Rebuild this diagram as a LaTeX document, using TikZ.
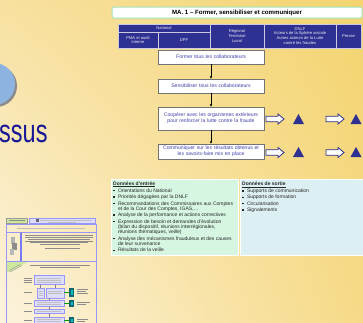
\documentclass[tikz,border=0pt]{standalone}
\usepackage{fontspec}
\setmainfont{Liberation Sans}
\usetikzlibrary{arrows.meta,shadings}

\definecolor{navy}{RGB}{46,49,146}
\definecolor{boxtext}{RGB}{62,62,172}
\definecolor{panelgreen}{RGB}{214,246,226}
\definecolor{panelblue}{RGB}{220,239,242}
\definecolor{titleborder}{RGB}{160,228,188}
\definecolor{circleblue}{RGB}{141,180,224}
\definecolor{headblue}{RGB}{24,24,150}
\definecolor{thumbblue}{RGB}{150,150,250}
\definecolor{thumblav}{RGB}{222,222,252}
\definecolor{thumbgreen}{RGB}{206,232,160}
\definecolor{thumbteal}{RGB}{20,100,110}
\definecolor{bgUL}{RGB}{247,225,160}
\definecolor{bgUR}{RGB}{244,212,112}
\definecolor{bgLL}{RGB}{252,243,222}
\definecolor{bgLR}{RGB}{246,218,135}

\newcommand{\blt}{\makebox[4.8pt][l]{\raisebox{0.8pt}{\rule{1.5pt}{1.5pt}}}}
\newcommand{\ind}{\hspace*{4.8pt}}

\tikzset{
  titlebox/.style={draw=titleborder, line width=1pt, fill=white, rounded corners=1.5pt,
    minimum width=250pt, minimum height=11pt, inner sep=0pt,
    font=\bfseries\fontsize{6.1}{6.5}\selectfont},
  headcell/.style={draw=white!75!navy, line width=0.5pt, fill=navy, text=white!92!navy,
    inner sep=0pt, align=center, font=\fontsize{4.1}{4.8}\selectfont},
  stepbox/.style={draw=black!55, line width=0.7pt, fill=white, text=boxtext,
    minimum width=106pt, inner sep=0pt, align=center, text width=104pt,
    font=\fontsize{5.1}{6.1}\selectfont},
  flowarrow/.style={draw=black, line width=0.5pt, -{Triangle[length=2.2pt,width=2.2pt]}},
  panel/.style={draw=white, line width=0.8pt, inner sep=0pt, anchor=north west},
  paneltext/.style={anchor=north west, inner sep=0pt, align=left, text=black!85,
    font=\fontsize{5}{5.3}\selectfont},
  blockarr/.pic={\draw[navy, fill=white, line width=0.8pt]
    (0,-2.7) -- (12,-2.7) -- (12,-5) -- (18,0) -- (12,5) -- (12,2.7) -- (0,2.7) -- cycle;},
  bluetri/.pic={\fill[navy] (0,5) -- (5.5,-5) -- (11,5) -- cycle;},
  thumbframe/.style={draw=thumbblue, line width=0.7pt},
  thumbbox/.style={fill=thumblav, draw=thumbblue, line width=0.4pt},
  thumbtext/.style={draw=black!45, line width=0.5pt},
  lighttext/.style={draw=black!25, line width=0.5pt},
}

\begin{document}
\begin{tikzpicture}[x=1pt,y=-1pt]
\useasboundingbox (0,0) rectangle (363,322);
\clip (0,0) rectangle (363,322);

% slide background
\shade[upper left=bgUL, upper right=bgUR, lower left=bgLL, lower right=bgLR]
  (0,0) rectangle (363,322);

% round badge and section word on the left
\fill[black!45] (-4,86) circle (21);
\fill[circleblue] (-6,84) circle (21);
\node[anchor=base west, inner sep=0pt, text=headblue,
      font=\fontsize{23.5}{23.5}\selectfont] (word) at (-1,142) {\scalebox{1}[1.38]{ssus}};

% title
\node[titlebox] (title) at (237,12.5) {MA. 1 – Former, sensibiliser et communiquer};

% header table
\node[headcell, minimum width=92pt, minimum height=8pt] (natl) at (164,28) {National};
\node[headcell, minimum width=40pt, minimum height=16pt] (pma) at (138,40) {PMA et audit\\interne};
\node[headcell, minimum width=52pt, minimum height=16pt] (dpf) at (184,40) {DPF};
\node[headcell, minimum width=54pt, minimum height=24pt] (reg) at (237,36) {Régional\\Territorial\\Local};
\node[headcell, minimum width=72pt, minimum height=24pt] (dnlf) at (300,36)
  {DNLF\\Acteurs de la Sphère sociale\\Autres acteurs de la Lutte\\contre les fraudes};
\node[headcell, minimum width=25pt, minimum height=24pt] (presse) at (348.5,36) {Presse};

% process steps
\node[stepbox, minimum height=14pt] (s1) at (211,57) {Former tous les collaborateurs};
\node[stepbox, minimum height=14pt] (s2) at (211,86) {Sensibiliser tous les collaborateurs};
\node[stepbox, minimum height=23pt] (s3) at (211,118.5)
  {Coopérer avec les organismes extérieurs\\pour renforcer la lutte contre la fraude};
\node[stepbox, minimum height=15pt] (s4) at (211,151.5)
  {Communiquer sur les résultats obtenus et\\les savoirs-faire mis en place};

\draw[flowarrow] (s1) -- (s2);
\draw[flowarrow] (s2) -- (s3);
\draw[flowarrow] (s3) -- (s4);

% actor markers
\pic at (266,119) {blockarr};
\pic at (293,119) {bluetri};
\pic at (326,119) {blockarr};
\pic at (350.5,119) {bluetri};
\pic at (266,152.5) {blockarr};
\pic at (293,152) {bluetri};
\pic at (326,152.5) {blockarr};
\pic at (350.5,152) {bluetri};

% input / output data
\node[panel, fill=panelgreen, minimum width=127pt, minimum height=76pt] (inbox) at (111,179) {};
\node[panel, fill=panelblue, minimum width=124pt, minimum height=76pt] (outbox) at (240,179) {};

\node[paneltext] (intext) at (113,181.3) {%
  \underline{\textbf{Données d’entrée}}\\[0.4pt]
  \blt Orientations du National\\[1.1pt]
  \blt Priorités dégagées par la DNLF\\[1.1pt]
  \blt Recommandations des Commissaires aux Comptes\\
  \ind et de la Cour des Comptes, IGAS,…\\[1.1pt]
  \blt Analyse de la performance et actions correctives\\[1.1pt]
  \blt Expression de besoin et demandes d’évolution\\
  \ind (bilan du dispositif, réunions interrégionales,\\
  \ind réunions thématiques, veille)\\[1.1pt]
  \blt Analyse des mécanismes frauduleux et des causes\\
  \ind de leur survenance\\[1.1pt]
  \blt Résultats de la veille};

\node[paneltext] (outtext) at (242,181.6) {%
  \underline{\textbf{Données de sortie}}\\[0.4pt]
  \blt Supports de communication\\[1pt]
  \blt Supports de formation\\[1pt]
  \blt Circularisation\\[1pt]
  \blt Signalements};

% miniature of the process sheet
\filldraw[fill=thumbgreen, draw=black!40, line width=0.4pt] (6.5,218.5) rectangle (27,222.8);
\draw[thumbtext] (9,220.7) -- (24.5,220.7);
\filldraw[thumbbox, line width=0.6pt] (29,218) rectangle (95.5,223.5);
\draw[lighttext] (40,219.8) -- (92,219.8);
\draw[lighttext] (48,221.9) -- (76,221.9);
\fill[black!60] (36,219) rectangle (38.5,221.5);
\draw[thumbframe] (6,224.5) rectangle (96,232);
\draw[lighttext] (17,228.3) -- (85,228.3);
\draw[thumbframe] (6,232.5) rectangle (96,261);
\fill[thumbblue!80!blue] (19.5,233) rectangle (21.5,260.5);
\fill[black!30] (11,237) rectangle (15,244);
\fill[black!45] (12,243) rectangle (17,250);
\fill[black!28] (10,249) rectangle (14,255);
\foreach \yy/\xa/\xb in {235.5/25/93, 237.3/25/93, 239.1/28/90, 240.9/25/93, 242.7/30/88, 244.5/40/80}
  \draw[thumbtext] (\xa,\yy) -- (\xb,\yy);
\draw[thumbtext] (45,248.5) -- (80,248.5);
\draw[thumbframe] (6,261.5) rectangle (96,330);
\fill[thumbgreen] (6.8,262) -- (28,262) -- (6.8,273) -- cycle;
\draw[thumbtext, line width=0.4pt] (9,270.5) -- (20,264.5);
\draw[thumbtext, line width=0.4pt] (10,272) -- (22,265.5);
\draw[thumbtext] (30,264.8) -- (90,264.8);
\draw[thumbtext] (40,267.2) -- (80,267.2);
% miniature flow
\filldraw[thumbbox] (34,275.5) rectangle (64,284.5);
\filldraw[thumbbox] (37,288) rectangle (44,298);
\filldraw[thumbbox] (46,288) rectangle (64,298);
\filldraw[thumbbox] (34,300) rectangle (64,306.5);
\filldraw[thumbbox] (34,309.5) rectangle (64,313.5);
\filldraw[thumbbox] (34,317) rectangle (64,326);
\foreach \yy in {278,280,282.3} \draw[lighttext] (37,\yy) -- (61,\yy);
\foreach \yy in {291,293,295} \draw[lighttext] (38.5,\yy) -- (42.5,\yy);
\foreach \yy in {291,293.5} \draw[lighttext] (48,\yy) -- (62,\yy);
\foreach \yy in {302,304.3} \draw[lighttext] (37,\yy) -- (61,\yy);
\draw[lighttext] (37,311.5) -- (61,311.5);
\foreach \yy in {319.5,321.7} \draw[lighttext] (37,\yy) -- (61,\yy);
\foreach \xa/\ya/\yb in {40.5/284.5/288, 55/284.5/288, 49/298/300, 49/306.5/309.5, 49/313.5/317}
  \draw[black!50, line width=0.4pt] (\xa,\ya) -- (\xa,\yb);
\foreach \ya/\yb in {287.5/296.5, 299.5/307, 316.5/324} {
  \fill[thumbteal] (69,\ya) rectangle (74,\yb);
  \fill[thumbteal!40!cyan] (70.5,\ya+2) rectangle (72.5,\yb-2);
}
\foreach \yy in {292,303,320}
  \draw[green!60!black, line width=0.9pt] (64,\yy) -- (69,\yy);
\foreach \yy/\xb in {289/88, 291/86, 293/88, 302.5/90, 304.5/86, 319.5/88, 321.5/85}
  \draw[thumbtext] (77,\yy) -- (\xb,\yy);
\foreach \yy in {278,280,282,292,303,311,320}
  \draw[thumbtext] (24,\yy) -- (32,\yy);

\end{tikzpicture}
\end{document}
